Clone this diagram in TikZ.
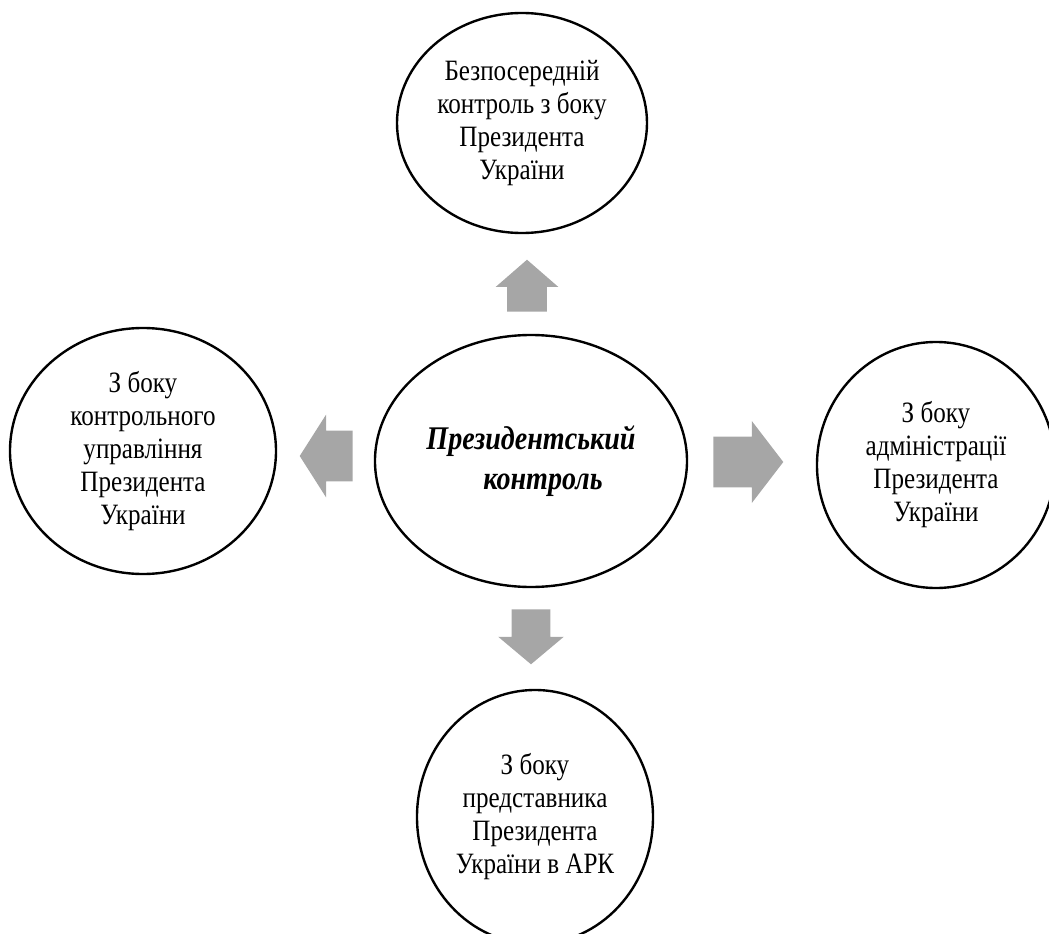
\documentclass[tikz,border=0pt]{standalone}
\usepackage{fontspec}
\setmainfont{Liberation Serif}
\newfontfamily\narrowserif[FakeStretch=0.85]{Liberation Serif}
\usetikzlibrary{positioning, shapes.geometric, shapes.arrows}

\definecolor{arrowgrey}{HTML}{A6A6A6}

\begin{document}
\begin{tikzpicture}[
    oval/.style={
      ellipse, draw=black, line width=1.7pt, fill=white, inner sep=0pt,
      font=\fontsize{21}{23.5}\selectfont\narrowserif, align=center,
    },
    mainoval/.style={
      oval, font=\fontsize{23.5}{29}\selectfont\narrowserif\bfseries\itshape,
    },
    blockarrow/.style={
      single arrow, fill=arrowgrey, draw=none, anchor=tail,
      inner xsep=0pt, single arrow head indent=0pt,
    },
]
\useasboundingbox (0,0) rectangle (26.225,-23.35);

% Central node
\node[mainoval, minimum width=7.8cm, minimum height=6.3cm] (control) at (13.275,-11.525)
    {Президентський\\\hspace*{0.6cm}контроль};

% Four forms of control around it
\node[oval, minimum width=6.25cm, minimum height=5.5cm] (direct) at (13.05,-3.075)
    {Безпосередній\\контроль з боку\\Президента\\України};
\node[oval, minimum width=6.65cm, minimum height=6.15cm] (office) at (3.575,-11.275)
    {З боку\\контрольного\\управління\\Президента\\України};
\node[oval, minimum width=5.95cm, minimum height=6.15cm] (admin) at (23.4,-11.625)
    {З боку\\адміністрації\\Президента\\України};
\node[oval, minimum width=5.9cm, minimum height=6.35cm] (crimea) at (13.375,-20.425)
    {З боку\\представника\\Президента\\України в АРК};

% Block arrows pointing outwards (placed by their tails)
\node[blockarrow, rotate=90, minimum height=1.3cm, inner ysep=0.4875cm,
      single arrow head extend=0.2875cm, single arrow tip angle=98] (upArrow) at (13.175,-7.8) {};
\node[blockarrow, rotate=180, minimum height=1.325cm, inner ysep=0.625cm,
      single arrow head extend=0.4cm, single arrow tip angle=115] (leftArrow) at (8.825,-11.4) {};
\node[blockarrow, minimum height=1.75cm, inner ysep=0.625cm,
      single arrow head extend=0.3875cm, single arrow tip angle=105] (rightArrow) at (17.825,-11.55) {};
\node[blockarrow, rotate=-90, minimum height=1.375cm, inner ysep=0.475cm,
      single arrow head extend=0.3375cm, single arrow tip angle=100] (downArrow) at (13.275,-15.225) {};
\end{tikzpicture}
\end{document}
